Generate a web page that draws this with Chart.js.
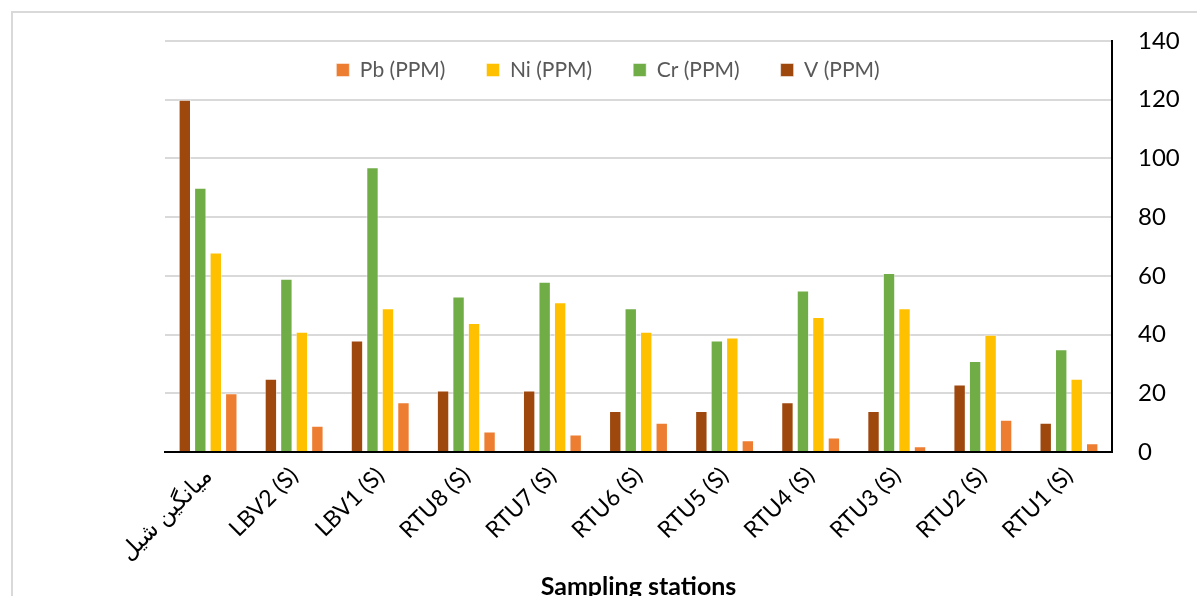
<!DOCTYPE html>
<html>
<head>
<meta charset="utf-8">
<script src="https://cdn.jsdelivr.net/npm/chart.js@4"></script>
<style>
  html, body { margin: 0; padding: 0; background: #fff; overflow: hidden; }
  #wrap { position: relative; width: 1197px; height: 596px; overflow: hidden; }
  #frame { position: absolute; left: 11px; top: 11px; width: 1400px; height: 800px; border: 2px solid #d9d9d9; }
  canvas { position: absolute; left: 0; top: 0; }
</style>
</head>
<body>
<div id="wrap">
  <div id="frame"></div>
  <canvas id="myChart" width="1197" height="596"></canvas>
</div>
<script>
// stations, left to right as shown
var stations = ['میانگین شیل', 'LBV2 (S)', 'LBV1 (S)', 'RTU8 (S)', 'RTU7 (S)', 'RTU6 (S)', 'RTU5 (S)', 'RTU4 (S)', 'RTU3 (S)', 'RTU2 (S)', 'RTU1 (S)'];
var vValues  = [120, 25, 38, 21, 21, 14, 14, 17, 14, 23, 10];
var crValues = [90, 59, 97, 53, 58, 49, 38, 55, 61, 31, 35];
var niValues = [68, 41, 49, 44, 51, 41, 39, 46, 49, 40, 25];
var pbValues = [20, 9, 17, 7, 6, 10, 4, 5, 2, 11, 3];
var yTicks = [0, 20, 40, 60, 80, 100, 120, 140];

var font = "Lato, 'Open Sans', 'DejaVu Sans', sans-serif";
var legendSize = 21;
var legendPad = 41;

function bar(label, data, color) {
  return {
    label: label,
    data: data,
    backgroundColor: color,
    borderColor: 'rgba(255,255,255,0.5)',
    borderWidth: 1,
    categoryPercentage: 0.72,
    barPercentage: 0.8
  };
}

// legend sits inside the plot area, as in the original
var legendInside = {
  id: 'legendInside',
  beforeInit: function (chart) {
    var fit = chart.legend.fit;
    chart.legend.fit = function () {
      fit.call(this);
      this.realHeight = this.height;
      this.height = 0;
    };
  },
  afterLayout: function (chart) {
    var lg = chart.legend;
    lg.top = 70 - legendPad - legendSize / 2;
    lg.height = lg.realHeight;
    lg.bottom = lg.top + lg.realHeight;
    var dx = 608 - (lg.left + lg.right) / 2;
    lg.left += dx;
    lg.right += dx;
  }
};

var ctx = document.getElementById('myChart').getContext('2d');
var myChart = new Chart(ctx, {
  type: 'bar',
  data: {
    labels: stations,
    datasets: [
      bar('V (PPM)', vValues, '#9E480E'),
      bar('Cr (PPM)', crValues, '#70AD47'),
      bar('Ni (PPM)', niValues, '#FFC000'),
      bar('Pb (PPM)', pbValues, '#ED7D31')
    ]
  },
  plugins: [legendInside],
  options: {
    responsive: false,
    animation: false,
    layout: { padding: { left: 165, right: 18, top: 41, bottom: 0 } },
    plugins: {
      tooltip: { enabled: false },
      legend: {
        position: 'top',
        align: 'center',
        reverse: true,
        labels: {
          boxWidth: 13,
          boxHeight: 13,
          padding: legendPad,
          color: '#595959',
          font: { family: font, size: legendSize }
        }
      }
    },
    scales: {
      x: {
        grid: { display: false, drawTicks: false },
        border: { color: '#000', width: 2 },
        ticks: {
          color: '#000',
          maxRotation: 45,
          minRotation: 45,
          padding: 10,
          font: { family: font, size: 23 }
        },
        title: {
          display: true,
          text: 'Sampling stations',
          color: '#000',
          padding: { top: -4, bottom: -6 },
          font: { family: font, size: 25, weight: 'bold' }
        }
      },
      y: {
        position: 'right',
        min: 0,
        max: 140,
        afterBuildTicks: function (axis) {
          axis.ticks = yTicks.map(function (v) { return { value: v }; });
        },
        afterFit: function (axis) {
          axis.width = 67;
        },
        grid: { color: '#d9d9d9', lineWidth: 2, drawTicks: false },
        border: { color: '#000', width: 2 },
        ticks: {
          color: '#000',
          padding: 26,
          font: { family: font, size: 24 }
        }
      }
    }
  }
});
</script>
</body>
</html>
